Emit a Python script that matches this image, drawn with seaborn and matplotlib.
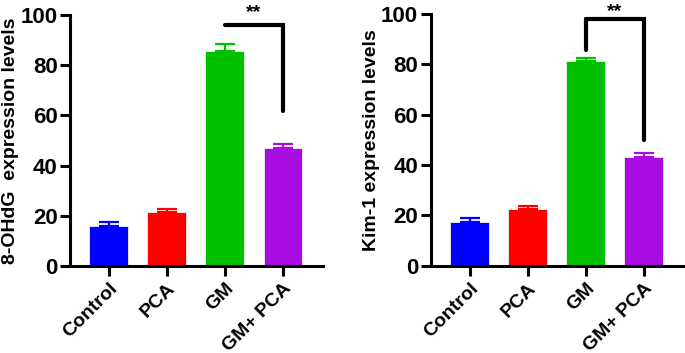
import matplotlib
matplotlib.use('Agg')
import matplotlib.pyplot as plt
import seaborn as sns
import pandas as pd

# group names and bar colours
groups = ['Control', 'PCA', 'GM', 'GM+ PCA']
bar_colors = ['#0000FF', '#FF0000', '#00C000', '#A80CE0']

# 8-OHdG panel (mean, upper SE)
ohdg_mean = [15.9, 21.5, 85.8, 46.9]
ohdg_err = [1.7, 1.1, 2.8, 1.6]

# Kim-1 panel (mean, upper SE)
kim_mean = [17.2, 22.4, 81.4, 43.1]
kim_err = [1.9, 1.3, 1.2, 1.6]

# significance bracket: (x start, x end, left leg bottom, right leg bottom, top)
ohdg_bracket = (2, 3, 96, 61.7, 96)
kim_bracket = (2, 3, 85.7, 49.9, 97.9)

sns.set_style('ticks')
plt.rcParams['font.family'] = ['Liberation Sans', 'DejaVu Sans']
plt.rcParams['font.weight'] = 'bold'
plt.rcParams['text.color'] = 'black'
plt.rcParams['axes.labelcolor'] = 'black'
plt.rcParams['xtick.color'] = 'black'
plt.rcParams['ytick.color'] = 'black'
plt.rcParams['axes.edgecolor'] = 'black'

fig = plt.figure(figsize=(6.85, 3.53), dpi=100)
ax1 = fig.add_axes([0.1022, 0.2465, 0.3693, 0.711])
ax2 = fig.add_axes([0.6288, 0.2473, 0.3698, 0.713])


def draw_panel(ax, means, errs, ylabel, bracket):
    df = pd.DataFrame({'group': groups, 'value': means})
    sns.barplot(data=df, x='group', y='value', hue='group', palette=bar_colors,
                saturation=1, legend=False, width=0.67, ax=ax,
                edgecolor='#e8f5e8', linewidth=0.6)
    for i, (m, e) in enumerate(zip(means, errs)):
        ax.errorbar(i, m, yerr=[[0], [e]], color=bar_colors[i], capsize=7,
                    capthick=1.6, elinewidth=1.6, clip_on=False)
    ax.set_xlim(-0.67, 3.69)
    ax.set_ylim(0, 100)
    ax.set_yticks([0, 20, 40, 60, 80, 100])
    ax.set_xlabel('')
    ax.set_ylabel(ylabel, fontsize=14, fontweight='bold', labelpad=1)
    sns.despine(ax=ax)
    for sp in ['left', 'bottom']:
        ax.spines[sp].set_linewidth(2.2)
    ax.tick_params(axis='both', width=2.2, length=7, pad=2, labelsize=16)
    ax.tick_params(axis='x', labelsize=14, pad=3)
    plt.setp(ax.get_xticklabels(), rotation=45, ha='right', rotation_mode='anchor',
             fontweight='bold')
    plt.setp(ax.get_yticklabels(), fontweight='bold')
    x0, x1, yl, yr, top = bracket
    ax.plot([x0, x1, x1], [top, top, yr], color='black', lw=3, clip_on=False,
            solid_joinstyle='miter')
    if yl < top:
        ax.plot([x0, x0], [top, yl], color='black', lw=3, clip_on=False)
    ax.text((x0 + x1) / 2, 99, '**', ha='center', va='baseline', fontsize=14,
            fontweight='bold', clip_on=False)


draw_panel(ax1, ohdg_mean, ohdg_err, '8-OHdG  expression levels', ohdg_bracket)
draw_panel(ax2, kim_mean, kim_err, 'Kim-1 expression levels', kim_bracket)

fig.savefig('out.png', dpi=100)
